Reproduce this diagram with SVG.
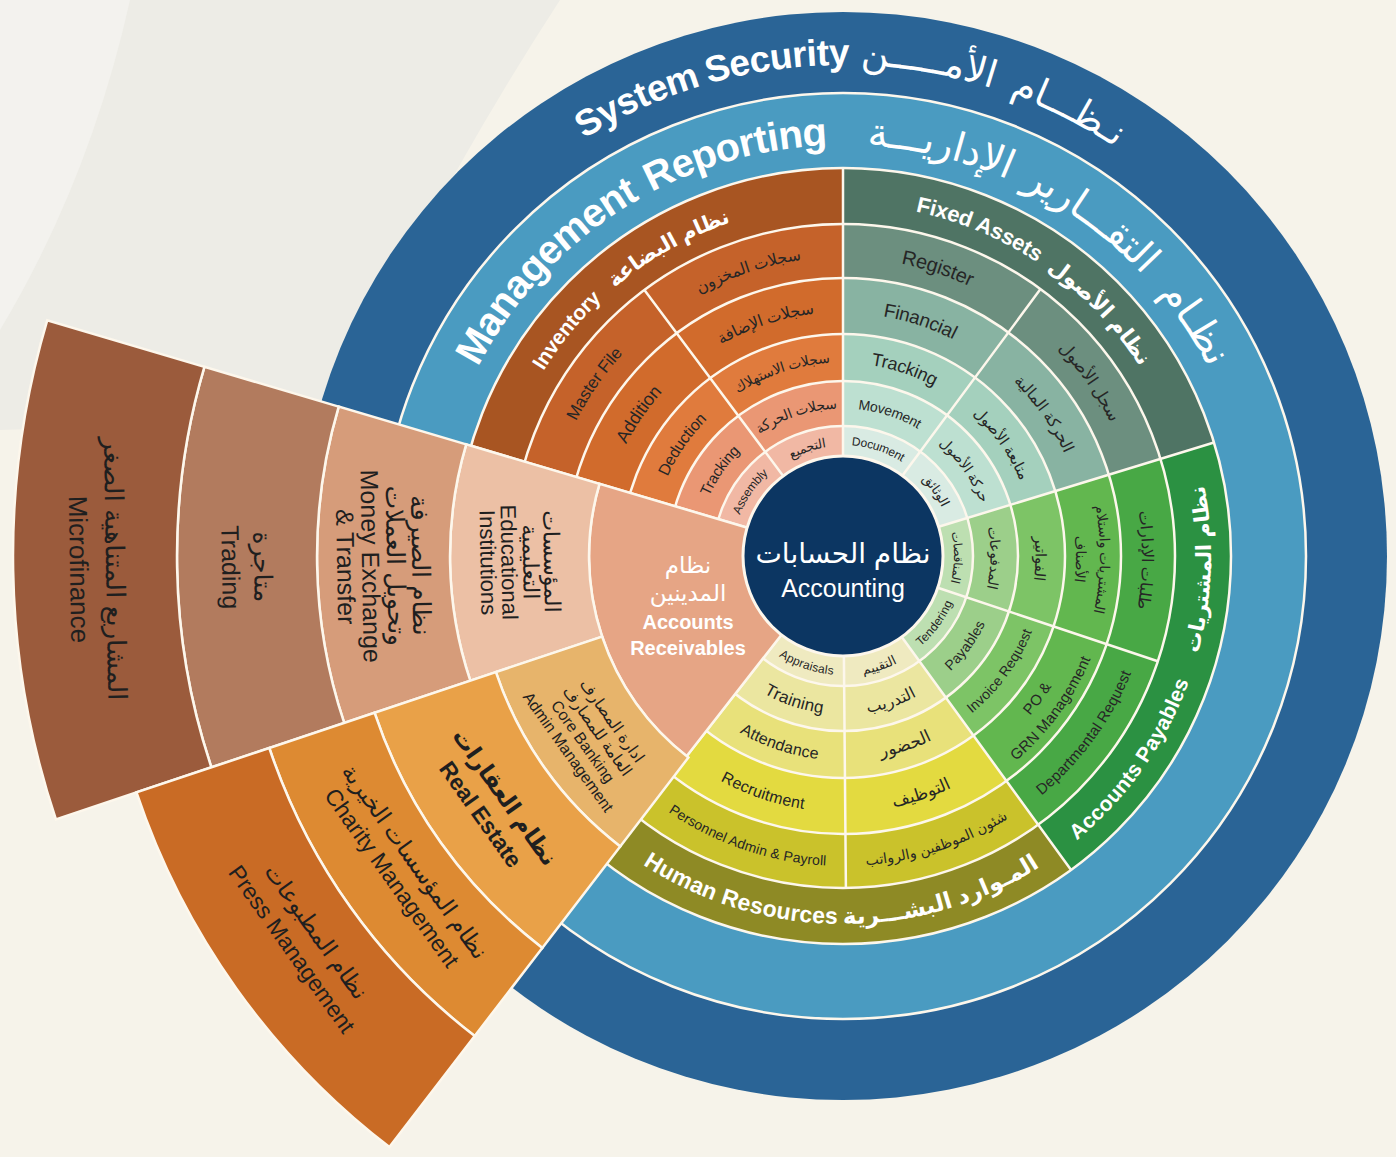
<svg xmlns="http://www.w3.org/2000/svg" width="1396" height="1157" viewBox="0 0 1396 1157">
<defs>
<style>
text{font-family:"Liberation Sans","DejaVu Sans",sans-serif;}
.sep{fill:none;stroke:#fdf7ec;stroke-width:2.5}
.cell{stroke:#fdf7ec;stroke-width:2.5}
.line{stroke:#fdf7ec;stroke-width:2.5;fill:none}
.lbl{fill:#262626;text-anchor:middle;dominant-baseline:central}
.ttl{fill:#ffffff;text-anchor:middle;dominant-baseline:central}
.b{font-weight:bold}
.fan{fill:#1f1f1f;text-anchor:middle;dominant-baseline:central}
</style>
<path id="cw115" d="M728,556 A115,115 0 1 1 958,556 A115,115 0 1 1 728,556"/>
<path id="cw152" d="M690.5,556 A152.5,152.5 0 1 1 995.5,556 A152.5,152.5 0 1 1 690.5,556"/>
<path id="cw198" d="M644.5,556 A198.5,198.5 0 1 1 1041.5,556 A198.5,198.5 0 1 1 644.5,556"/>
<path id="cw250" d="M593,556 A250,250 0 1 1 1093,556 A250,250 0 1 1 593,556"/>
<path id="cw238" d="M605,556 A238,238 0 1 1 1081,556 A238,238 0 1 1 605,556"/>
<path id="cw262" d="M581,556 A262,262 0 1 1 1105,556 A262,262 0 1 1 581,556"/>
<path id="cw305" d="M538,556 A305,305 0 1 1 1148,556 A305,305 0 1 1 538,556"/>
<path id="cw360" d="M483,556 A360,360 0 1 1 1203,556 A360,360 0 1 1 483,556"/>
<path id="cw425" d="M418,556 A425,425 0 1 1 1268,556 A425,425 0 1 1 418,556"/>
<path id="cw504" d="M339,556 A504,504 0 1 1 1347,556 A504,504 0 1 1 339,556"/>
<path id="ccw115" d="M843,441 A115,115 0 1 0 843,671 A115,115 0 1 0 843,441"/>
<path id="ccw152" d="M843,403.5 A152.5,152.5 0 1 0 843,708.5 A152.5,152.5 0 1 0 843,403.5"/>
<path id="ccw198" d="M843,357.5 A198.5,198.5 0 1 0 843,754.5 A198.5,198.5 0 1 0 843,357.5"/>
<path id="ccw250" d="M843,306 A250,250 0 1 0 843,806 A250,250 0 1 0 843,306"/>
<path id="ccw240" d="M843,316 A240,240 0 1 0 843,796 A240,240 0 1 0 843,316"/>
<path id="ccw262" d="M843,294 A262,262 0 1 0 843,818 A262,262 0 1 0 843,294"/>
<path id="ccw305" d="M843,251 A305,305 0 1 0 843,861 A305,305 0 1 0 843,251"/>
<path id="ccw360" d="M843,196 A360,360 0 1 0 843,916 A360,360 0 1 0 843,196"/>
</defs>

<g id="background">
<rect x="0" y="0" width="1396" height="1157" fill="#f6f3ea"/>
<path d="M0,0 L560,0 Q430,200 330,420 L0,430 Z" fill="#edece6"/>
<path d="M0,0 L130,0 Q90,180 0,330 Z" fill="#f3f2ee"/>
</g>

<g id="system-security">
<circle cx="843" cy="556" r="544" fill="#2a6496"/>
<text class="ttl b" font-size="37"><textPath href="#cw504" startOffset="18.25%">System</textPath></text>
<text class="ttl b" font-size="37"><textPath href="#cw504" startOffset="22.9%">Security</textPath></text>
<text class="ttl" font-size="38"><textPath href="#cw504" startOffset="27.75%">الأمـــــن</textPath></text>
<text class="ttl" font-size="38"><textPath href="#cw504" startOffset="32.45%">نـظـــام</textPath></text>
</g>

<g id="management-reporting">
<circle cx="843" cy="556" r="463" fill="#4a9bc1" stroke="#fdf7ec" stroke-width="2.5"/>
<text class="ttl b" font-size="40"><textPath href="#cw425" startOffset="12.2%">Management</textPath></text>
<text class="ttl b" font-size="40"><textPath href="#cw425" startOffset="20.85%">Reporting</textPath></text>
<text class="ttl" font-size="40"><textPath href="#cw425" startOffset="28.75%">الإداريـــة</textPath></text>
<text class="ttl" font-size="40"><textPath href="#cw425" startOffset="35.1%">التقـــارير</textPath></text>
<text class="ttl" font-size="40"><textPath href="#cw425" startOffset="40.7%">نظـام</textPath></text>
</g>

<g id="inventory">
<path d="M843,556 L471.0,445.8 A388,388 0 0 1 843,168 Z" fill="#a85522"/>
<path d="M843,556 L524.7,461.7 A332,332 0 0 1 843,224 Z" fill="#c5622a"/>
<path d="M843,556 L576.5,477.0 A278,278 0 0 1 843,278 Z" fill="#d16b2c"/>
<path d="M843,556 L630.1,493.0 A222,222 0 0 1 843,334 Z" fill="#e07b3d"/>
<path d="M843,556 L675.2,506.3 A175,175 0 0 1 843,381 Z" fill="#ea9774"/>
<path d="M843,556 L718.4,519.1 A130,130 0 0 1 843,426 Z" fill="#f1b8a4"/>
</g>

<g id="fixed-assets">
<path d="M843,556 L843,168 A388,388 0 0 1 1214.0,442.5 Z" fill="#4f7464"/>
<path d="M843,556 L843,224 A332,332 0 0 1 1160.5,458.9 Z" fill="#6c8f7f"/>
<path d="M843,556 L843,278 A278,278 0 0 1 1108.9,474.7 Z" fill="#88b3a2"/>
<path d="M843,556 L843,334 A222,222 0 0 1 1055.3,491.1 Z" fill="#a4d0bd"/>
<path d="M843,556 L843,381 A175,175 0 0 1 1010.4,504.8 Z" fill="#bde0d1"/>
<path d="M843,556 L843,426 A130,130 0 0 1 967.3,518.0 Z" fill="#d9ebe3"/>
</g>

<g id="accounts-payables">
<path d="M843,556 L1214.0,442.5 A388,388 0 0 1 1071.1,869.9 Z" fill="#2b9142"/>
<path d="M843,556 L1160.5,458.9 A332,332 0 0 1 1038.1,824.6 Z" fill="#48a845"/>
<path d="M843,556 L1108.9,474.7 A278,278 0 0 1 1006.4,780.9 Z" fill="#62b74f"/>
<path d="M843,556 L1055.3,491.1 A222,222 0 0 1 973.5,735.6 Z" fill="#7dc466"/>
<path d="M843,556 L1010.4,504.8 A175,175 0 0 1 945.9,697.6 Z" fill="#9ccf8a"/>
<path d="M843,556 L967.3,518.0 A130,130 0 0 1 919.4,661.2 Z" fill="#bddfb1"/>
</g>

<g id="human-resources">
<path d="M843,556 L1071.1,869.9 A388,388 0 0 1 604.1,861.7 Z" fill="#8e8a25"/>
<path d="M843,556 L1038.1,824.6 A332,332 0 0 1 638.6,817.6 Z" fill="#cac22b"/>
<path d="M843,556 L1006.4,780.9 A278,278 0 0 1 671.8,775.1 Z" fill="#e3da40"/>
<path d="M843,556 L973.5,735.6 A222,222 0 0 1 706.3,730.9 Z" fill="#e8e17a"/>
<path d="M843,556 L945.9,697.6 A175,175 0 0 1 735.3,693.9 Z" fill="#ebe6a0"/>
<path d="M843,556 L919.4,661.2 A130,130 0 0 1 763.0,658.4 Z" fill="#efeac0"/>
</g>

<g id="connectors">
<circle class="sep" cx="843" cy="556" r="130"/>
<circle class="sep" cx="843" cy="556" r="175"/>
<circle class="sep" cx="843" cy="556" r="222"/>
<circle class="sep" cx="843" cy="556" r="278"/>
<circle class="sep" cx="843" cy="556" r="332"/>
<circle class="sep" cx="843" cy="556" r="388"/>
<path class="line" d="M747.1,527.6 L471.0,445.8 M843,456 L843,168 M938.6,526.8 L1214.0,442.5 M901.8,636.9 L1071.1,869.9 M781.4,634.8 L604.1,861.7"/>
<path class="line" d="M783.2,475.9 L644.4,290.0 M902.5,475.6 L1040.5,289.1 M937.8,587.7 L1157.8,661.3 M843.9,656 L845.9,888"/>
</g>

<g id="accounts-receivables">
<path class="cell" d="M843,556 L686.6,756.2 A254,254 0 0 1 599.5,483.9 Z" fill="#e6a585"/>
<text fill="#ffffff" text-anchor="middle" dominant-baseline="central"><tspan x="688" y="565" font-size="23">نظام</tspan><tspan x="688" y="593" font-size="23">المدينين</tspan><tspan x="688" y="622" font-size="20" font-weight="bold">Accounts</tspan><tspan x="688" y="648" font-size="20" font-weight="bold">Receivables</tspan></text>
</g>

<g id="educational-institutions">
<path class="cell" d="M599.5,483.9 L466.2,444.4 A393,393 0 0 0 470.3,680.7 L602.1,636.6 A254,254 0 0 1 599.5,483.9 Z" fill="#ecc0a5"/>
<text class="fan" font-size="22" transform="translate(520,562) rotate(89)"><tspan x="0" y="-32">المؤسسات</tspan><tspan x="0" y="-11">التعليمية</tspan><tspan x="0" y="10.5">Educational</tspan><tspan x="0" y="31.5">Institutions</tspan></text>
</g>
<g id="money-exchange">
<path class="cell" d="M466.2,444.4 L338.7,406.6 A526,526 0 0 0 344.2,722.9 L470.3,680.7 A393,393 0 0 1 466.2,444.4 Z" fill="#d69c7a"/>
<text class="fan" font-size="25" transform="translate(383.6,566) rotate(89)"><tspan x="0" y="-37.5">نظام الصيرفة</tspan><tspan x="0" y="-12.5">وتحويل العملات</tspan><tspan x="0" y="12.5">Money Exchange</tspan><tspan x="0" y="37.5">&amp; Transfer</tspan></text>
</g>
<g id="trading">
<path class="cell" d="M338.7,406.6 L204.4,366.9 A666,666 0 0 0 211.4,767.3 L344.2,722.9 A526,526 0 0 1 338.7,406.6 Z" fill="#b27b5e"/>
<text class="fan" font-size="25" transform="translate(247.1,567) rotate(89)"><tspan x="0" y="-16">متاجرة</tspan><tspan x="0" y="16">Trading</tspan></text>
</g>
<g id="microfinance">
<path class="cell" d="M204.4,366.9 L47.2,320.3 A830,830 0 0 0 55.9,819.4 L211.4,767.3 A666,666 0 0 1 204.4,366.9 Z" fill="#9b5b3c"/>
<text class="fan" font-size="26" transform="translate(97,569.1) rotate(89)"><tspan x="0" y="-18">المشاريع المتناهية الصغر</tspan><tspan x="0" y="18">Microfinance</tspan></text>
</g>

<g id="core-banking">
<path class="cell" d="M602.1,636.6 L495.9,672.1 A366,366 0 0 0 620.2,846.4 L688.4,757.5 A254,254 0 0 1 602.1,636.6 Z" fill="#e7b46b"/>
<text class="fan" font-size="16" transform="translate(590.6,736) rotate(54.5)"><tspan x="0" y="-27">ادارة المصارف</tspan><tspan x="0" y="-9">العامة للمصارف</tspan><tspan x="0" y="9">Core Banking</tspan><tspan x="0" y="27">Admin Management</tspan></text>
</g>
<g id="real-estate">
<path class="cell" d="M495.9,672.1 L374.5,712.7 A494,494 0 0 0 542.3,947.9 L620.2,846.4 A366,366 0 0 1 495.9,672.1 Z" fill="#e9a148"/>
<text class="fan" font-size="23" font-weight="bold" transform="translate(492.9,805.7) rotate(54.5)"><tspan x="0" y="-15">نظام العقارات</tspan><tspan x="0" y="15">Real Estate</tspan></text>
</g>
<g id="charity-management">
<path class="cell" d="M374.5,712.7 L269.3,748.0 A605,605 0 0 0 474.7,1036.0 L542.3,947.9 A494,494 0 0 1 374.5,712.7 Z" fill="#dd8a32"/>
<text class="fan" font-size="23" transform="translate(403.4,869.6) rotate(54.5)"><tspan x="0" y="-14">نظام المؤسسات الخيرية</tspan><tspan x="0" y="14">Charity Management</tspan></text>
</g>
<g id="press-management">
<path class="cell" d="M269.3,748.0 L136.5,792.4 A745,745 0 0 0 389.4,1147.1 L474.7,1036.0 A605,605 0 0 1 269.3,748.0 Z" fill="#c96b25"/>
<text class="fan" font-size="23" transform="translate(304.1,940.4) rotate(54.5)"><tspan x="0" y="-15">نظام المطبوعات</tspan><tspan x="0" y="15">Press Management</tspan></text>
</g>

<g id="inventory-labels">
<text class="ttl b" font-size="21"><textPath href="#cw360" startOffset="10.9%">Inventory</textPath></text>
<text class="ttl b" font-size="21"><textPath href="#cw360" startOffset="16.8%">نظام البضاعة</textPath></text>
<text class="lbl" font-size="17"><textPath href="#cw305" startOffset="9.65%">Master File</textPath></text>
<text class="lbl" font-size="18"><textPath href="#cw250" startOffset="9.65%">Addition</textPath></text>
<text class="lbl" font-size="16"><textPath href="#cw198" startOffset="9.65%">Deduction</textPath></text>
<text class="lbl" font-size="15"><textPath href="#cw152" startOffset="9.65%">Tracking</textPath></text>
<text class="lbl" font-size="12"><textPath href="#cw115" startOffset="9.65%">Assembly</textPath></text>
<text class="lbl" font-size="16"><textPath href="#cw305" startOffset="19.9%">سجلات المخزون</textPath></text>
<text class="lbl" font-size="16"><textPath href="#cw250" startOffset="19.9%">سجلات الإضافة</textPath></text>
<text class="lbl" font-size="14"><textPath href="#cw198" startOffset="19.9%">سجلات الاستهلاك</textPath></text>
<text class="lbl" font-size="14"><textPath href="#cw152" startOffset="19.9%">سجلات الحركة</textPath></text>
<text class="lbl" font-size="13"><textPath href="#cw115" startOffset="19.9%">التجميع</textPath></text>
</g>

<g id="fixed-assets-labels">
<text class="ttl b" font-size="22"><textPath href="#cw360" startOffset="31.3%">Fixed Assets</textPath></text>
<text class="ttl b" font-size="22"><textPath href="#cw360" startOffset="37.9%">نظام الأصول</textPath></text>
<text class="lbl" font-size="20"><textPath href="#cw305" startOffset="30.07%">Register</textPath></text>
<text class="lbl" font-size="19"><textPath href="#cw250" startOffset="30.07%">Financial</textPath></text>
<text class="lbl" font-size="18"><textPath href="#cw198" startOffset="30.07%">Tracking</textPath></text>
<text class="lbl" font-size="14"><textPath href="#cw152" startOffset="30.07%">Movement</textPath></text>
<text class="lbl" font-size="12"><textPath href="#cw115" startOffset="30.07%">Document</textPath></text>
<text class="lbl" font-size="17"><textPath href="#cw305" startOffset="40.21%">سجل الأصول</textPath></text>
<text class="lbl" font-size="16"><textPath href="#cw250" startOffset="40.21%">الحركة المالية</textPath></text>
<text class="lbl" font-size="15"><textPath href="#cw198" startOffset="40.21%">متابعة الأصول</textPath></text>
<text class="lbl" font-size="14"><textPath href="#cw152" startOffset="40.21%">حركة الأصول</textPath></text>
<text class="lbl" font-size="13"><textPath href="#cw115" startOffset="40.21%">الوثائق</textPath></text>
</g>

<g id="accounts-payables-labels">
<text class="ttl b" font-size="21"><textPath href="#ccw360" startOffset="65.2%">Accounts Payables</textPath></text>
<text class="ttl b" font-size="21"><textPath href="#ccw360" startOffset="74.4%">نظام المشتريات</textPath></text>
<text class="lbl" font-size="16"><textPath href="#cw305" startOffset="50.21%">طلبات الإدارات</textPath></text>
<text class="lbl" font-size="14"><textPath href="#cw262" startOffset="50.21%">المشتريات واستلام</textPath></text>
<text class="lbl" font-size="14"><textPath href="#cw238" startOffset="50.21%">الأصناف</textPath></text>
<text class="lbl" font-size="15"><textPath href="#cw198" startOffset="50.21%">الفواتير</textPath></text>
<text class="lbl" font-size="14"><textPath href="#cw152" startOffset="50.21%">المدفوعات</textPath></text>
<text class="lbl" font-size="12"><textPath href="#cw115" startOffset="50.21%">المناقصات</textPath></text>
<text class="lbl" font-size="15"><textPath href="#ccw305" startOffset="64.93%">Departmental Request</textPath></text>
<text class="lbl" font-size="15"><textPath href="#ccw240" startOffset="64.93%">PO &amp;</textPath></text>
<text class="lbl" font-size="15"><textPath href="#ccw262" startOffset="64.93%">GRN Management</textPath></text>
<text class="lbl" font-size="14"><textPath href="#ccw198" startOffset="64.93%">Invoice Request</textPath></text>
<text class="lbl" font-size="14"><textPath href="#ccw152" startOffset="64.93%">Payables</textPath></text>
<text class="lbl" font-size="12"><textPath href="#ccw115" startOffset="64.93%">Tendering</textPath></text>
</g>

<g id="human-resources-labels">
<text class="ttl b" font-size="23"><textPath href="#ccw360" startOffset="45.3%">Human Resources</textPath></text>
<text class="ttl b" font-size="23"><textPath href="#ccw360" startOffset="54.5%">المـوارد البشـــرية</textPath></text>
<text class="lbl" font-size="14"><textPath href="#ccw305" startOffset="55.07%">شئون الموظفين والرواتب</textPath></text>
<text class="lbl" font-size="17"><textPath href="#ccw250" startOffset="55.07%">التوظيف</textPath></text>
<text class="lbl" font-size="17"><textPath href="#ccw198" startOffset="55.07%">الحضور</textPath></text>
<text class="lbl" font-size="16"><textPath href="#ccw152" startOffset="55.07%">التدريب</textPath></text>
<text class="lbl" font-size="13"><textPath href="#ccw115" startOffset="55.07%">التقييم</textPath></text>
<text class="lbl" font-size="14"><textPath href="#ccw305" startOffset="44.79%">Personnel Admin &amp; Payroll</textPath></text>
<text class="lbl" font-size="16"><textPath href="#ccw250" startOffset="44.79%">Recruitment</textPath></text>
<text class="lbl" font-size="16"><textPath href="#ccw198" startOffset="44.79%">Attendance</textPath></text>
<text class="lbl" font-size="17"><textPath href="#ccw152" startOffset="44.79%">Training</textPath></text>
<text class="lbl" font-size="12"><textPath href="#ccw115" startOffset="44.79%">Appraisals</textPath></text>
</g>

<g id="accounting">
<circle cx="843" cy="556" r="100" fill="#0c3662" stroke="#fdf7ec" stroke-width="3"/>
<text fill="#ffffff" text-anchor="middle" dominant-baseline="central"><tspan x="843" y="553" font-size="28">نظام الحسابات</tspan><tspan x="843" y="588" font-size="25">Accounting</tspan></text>
</g>
</svg>
